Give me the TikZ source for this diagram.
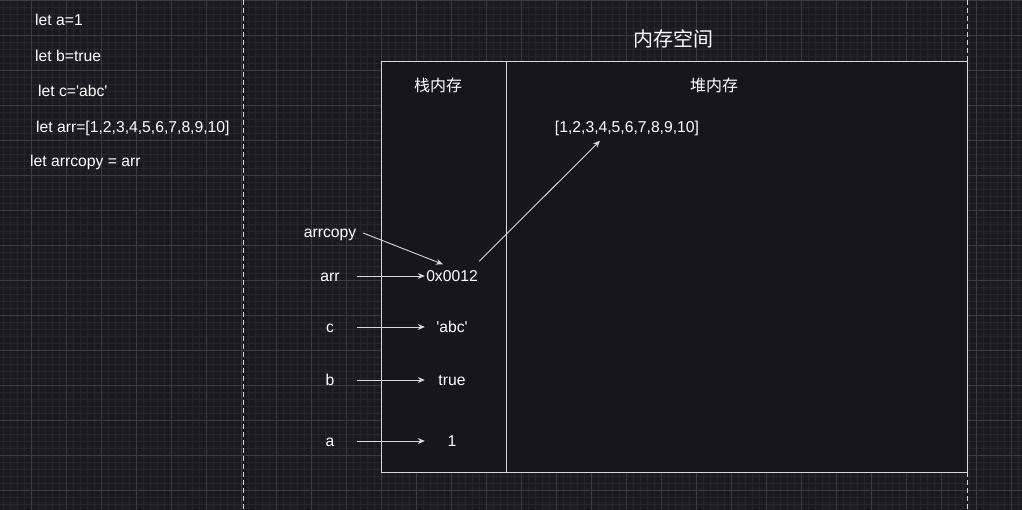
\documentclass[tikz,border=0pt]{standalone}
\usepackage{fontspec}
\setmainfont{Liberation Sans}
\newfontfamily\cjk{Noto Sans CJK SC}
\usetikzlibrary{arrows.meta}
\definecolor{bgcol}{HTML}{1B1A21}
\definecolor{boxcol}{HTML}{17161D}
\definecolor{minorcol}{HTML}{26252C}
\definecolor{majorcol}{HTML}{3C3B42}
\definecolor{linecol}{HTML}{D8D8D8}
\tikzset{
  txt/.style={text=white,font=\fontsize{15.7}{18}\selectfont,inner sep=0pt,text height=11pt,text depth=0pt},
  code/.style={txt,anchor=west},
  varname/.style={txt,minimum width=54pt},
  varval/.style={txt,minimum width=54pt},
  zh/.style={text=white,font=\cjk\fontsize{16}{18}\selectfont,inner sep=0pt},
  link/.style={draw=linecol,line width=0.9pt,-{Stealth[length=7pt,width=6pt]}}
}
\newcommand{\sq}{\textquotesingle}
\begin{document}
\begin{tikzpicture}[x=1pt,y=-1pt]
\useasboundingbox (0,0) rectangle (1022,510);
\fill[bgcol] (0,0) rectangle (1022,510);
% grid
\begin{scope}[xshift=-4pt]
\draw[minorcol,line width=0.6pt,step=7pt] (0,0) grid (1030,510);
\draw[majorcol,line width=0.8pt,step=35pt] (0,0) grid (1030,510);
\end{scope}
\draw[linecol,line width=1pt,dash pattern=on 5pt off 3pt] (243,0) -- (243,510);
\draw[linecol,line width=1pt,dash pattern=on 5pt off 3pt] (967,0) -- (967,510);
% memory box
\draw[linecol,fill=boxcol,line width=0.8pt] (381,61) rectangle (967,472);
\draw[linecol,line width=0.8pt] (506,61) -- (506,472);
\node[zh,font=\cjk\fontsize{20}{24}\selectfont] (title) at (673,39) {内存空间};
\node[zh] (stack) at (438,85) {栈内存};
\node[zh] (heap) at (714,85) {堆内存};
\node[txt] (array) at (627,127) {[1,2,3,4,5,6,7,8,9,10]};
% code
\node[code] (la) at (35,20) {let a=1};
\node[code] (lb) at (35,56) {let b=true};
\node[code] (lc) at (38,91) {let c=\sq abc\sq};
\node[code] (larr) at (36,127) {let arr=[1,2,3,4,5,6,7,8,9,10]};
\node[code] (lcopy) at (30,161) {let arrcopy = arr};
% variables
\node[varname] (ncopy) at (330,232) {arrcopy};
\node[varname] (narr) at (330,276) {arr};
\node[varname] (nc) at (330,327) {c};
\node[varname] (nb) at (330,380) {b};
\node[varname] (na) at (330,441) {a};
\node[varval] (vptr) at (452,276) {0x0012};
\node[varval] (vc) at (452,327) {\sq abc\sq};
\node[varval] (vb) at (452,380) {true};
\node[varval] (va) at (452,441) {1};
\draw[link] (narr.east) -- (vptr.west);
\draw[link] (nc.east) -- (vc.west);
\draw[link] (nb.east) -- (vb.west);
\draw[link] (na.east) -- (va.west);
\draw[link] ([xshift=6pt,yshift=-1pt]ncopy.east) -- ([xshift=-9pt,yshift=6pt]vptr.north);
\draw[link] ([xshift=0pt,yshift=9pt]vptr.north east) -- ([xshift=-27pt,yshift=-8pt]array.south);
\end{tikzpicture}
\end{document}
